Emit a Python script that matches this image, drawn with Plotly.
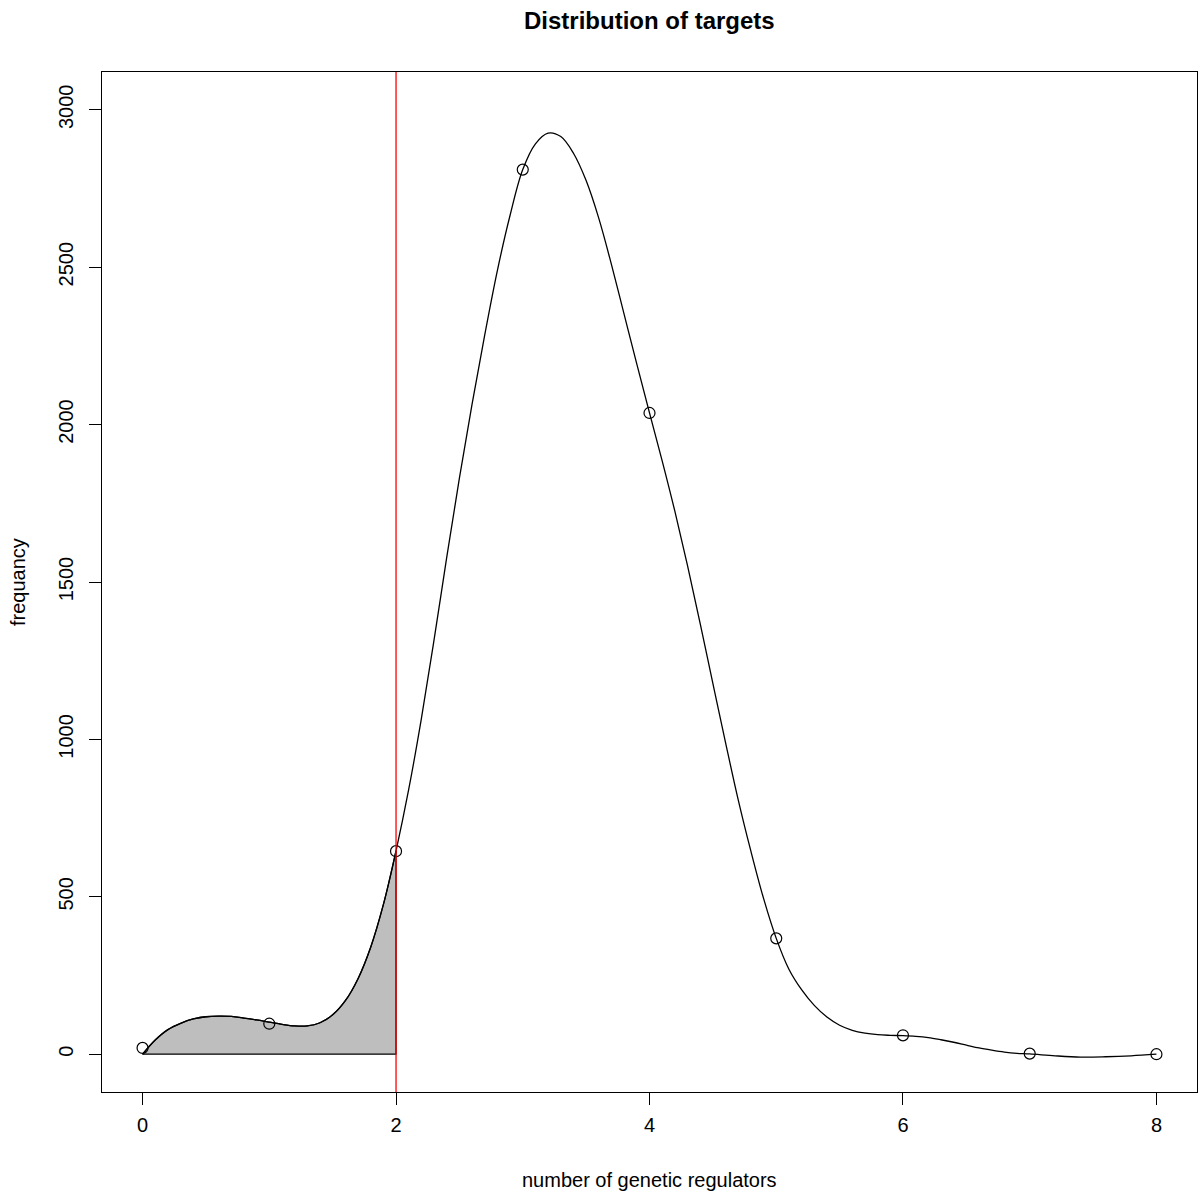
import plotly.graph_objects as go

# observed counts
regulators = [0, 1, 2, 3, 4, 5, 6, 7, 8]
counts = [20, 97, 645, 2810, 2037, 368, 60, 2, 0]

# smoothed curve
curve_x = [0.0, 0.1, 0.2, 0.3, 0.4, 0.5, 0.6, 0.7, 0.8, 0.9, 1.0, 1.1, 1.2, 1.3, 1.4, 1.5, 1.6, 1.7, 1.8, 1.9,
           2.0, 2.1, 2.2, 2.3, 2.4, 2.5, 2.6, 2.7, 2.8, 2.9, 3.0, 3.1, 3.2, 3.3, 3.4, 3.5, 3.6, 3.7, 3.8, 3.9,
           4.0, 4.1, 4.2, 4.3, 4.4, 4.5, 4.6, 4.7, 4.8, 4.9, 5.0, 5.1, 5.2, 5.3, 5.4, 5.5, 5.6, 5.7, 5.8, 5.9,
           6.0, 6.1, 6.2, 6.3, 6.4, 6.5, 6.6, 6.7, 6.8, 6.9, 7.0, 7.2, 7.4, 7.6, 7.8, 8.0]
curve_y = [0, 45, 78, 98, 112, 119, 121, 120, 115, 109, 102, 95, 90, 90, 100, 125, 170, 240, 340, 475,
           646, 841, 1066, 1316, 1578, 1830, 2065, 2285, 2490, 2665, 2810, 2892, 2926, 2915, 2862, 2775, 2655, 2508, 2350, 2192,
           2037, 1885, 1725, 1552, 1368, 1178, 990, 808, 645, 495, 368, 270, 205, 155, 118, 92, 76, 67, 62, 60,
           59, 57, 53, 46, 38, 29, 20, 13, 7, 3, 1, -5, -9, -8, -5, 0]

cutoff = 2
x_ticks = [0, 2, 4, 6, 8]
y_ticks = [0, 500, 1000, 1500, 2000, 2500, 3000]

FONT = "Liberation Sans, Arial, Helvetica, sans-serif"

shade_x = [x for x in curve_x if x <= cutoff]
shade_y = curve_y[:len(shade_x)]

fig = go.Figure()

# grey area under the curve up to the cutoff
fig.add_trace(go.Scatter(x=shade_x, y=shade_y, mode='lines', line=dict(color='black', width=1.3, shape='spline'),
                         fill='tozeroy', fillcolor='#BEBEBE', showlegend=False, hoverinfo='skip'))
fig.add_trace(go.Scatter(x=[shade_x[0], cutoff, cutoff], y=[0, 0, shade_y[-1]], mode='lines',
                         line=dict(color='black', width=1.3), showlegend=False, hoverinfo='skip'))

fig.add_trace(go.Scatter(x=curve_x, y=curve_y, mode='lines',
                         line=dict(color='black', width=1.3, shape='spline', smoothing=1), showlegend=False))
fig.add_trace(go.Scatter(x=regulators, y=counts, mode='markers',
                         marker=dict(symbol='circle-open', size=11, color='black', line=dict(width=1.2)),
                         showlegend=False))

fig.add_shape(type='line', x0=cutoff, x1=cutoff, y0=0, y1=1, xref='x', yref='paper',
              line=dict(color='red', width=1.3), layer='above')

fig.update_xaxes(range=[-0.32, 8.32], tickvals=x_ticks, ticks='outside', ticklen=12, tickwidth=1.2,
                 tickcolor='black', showline=True, mirror=True, linecolor='black', linewidth=1.3,
                 showgrid=False, zeroline=False, ticklabelstandoff=3,
                 tickfont=dict(family=FONT, size=20, color='black'))
fig.update_yaxes(range=[-120, 3120], tickvals=y_ticks, ticks='outside', ticklen=12, tickwidth=1.2,
                 tickcolor='black', showline=True, mirror=True, linecolor='black', linewidth=1.3,
                 showgrid=False, zeroline=False, tickangle=-90, ticklabelstandoff=8,
                 tickfont=dict(family=FONT, size=20, color='black'))

fig.update_layout(
    width=1200, height=1195,
    margin=dict(l=102, r=3, t=72, b=103),
    paper_bgcolor='white', plot_bgcolor='white',
    font=dict(family=FONT, size=20, color='black'),
    annotations=[
        dict(text='<b>Distribution of targets</b>', x=0.5, y=1.05, xref='paper', yref='paper',
             showarrow=False, font=dict(size=24), xanchor='center', yanchor='middle'),
        dict(text='number of genetic regulators', x=0.5, y=-0.0863, xref='paper', yref='paper',
             showarrow=False, font=dict(size=20), xanchor='center', yanchor='middle'),
        dict(text='frequancy', x=-0.0767, y=0.5, xref='paper', yref='paper', textangle=-90,
             showarrow=False, font=dict(size=20), xanchor='center', yanchor='middle'),
    ],
)

fig.write_html("out.html", config={'displayModeBar': False},
               post_script="document.body.style.margin='0';document.body.style.overflow='hidden';")
